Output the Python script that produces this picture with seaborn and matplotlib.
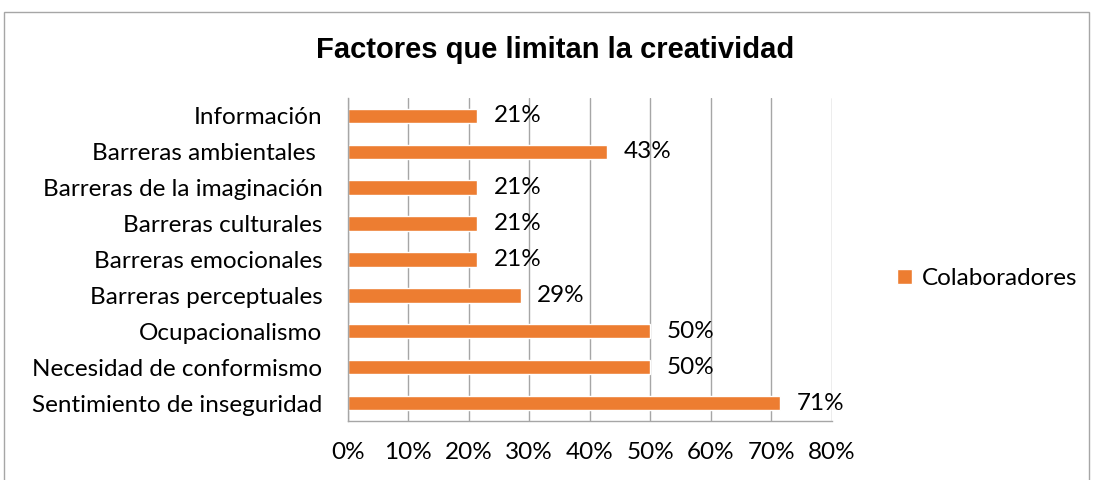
import numpy as np
import pandas as pd
import matplotlib
matplotlib.use('Agg')
import matplotlib.pyplot as plt
from matplotlib.ticker import FixedLocator, PercentFormatter
import seaborn as sns

# DATA (14 colaboradores -> fractions of 14)
factores = ['Información', 'Barreras ambientales ', 'Barreras de la imaginación',
            'Barreras culturales', 'Barreras emocionales', 'Barreras perceptuales',
            'Ocupacionalismo', 'Necesidad de conformismo', 'Sentimiento de inseguridad']
porcentaje = [21.4, 42.9, 21.4, 21.4, 21.4, 28.6, 50.0, 50.0, 71.4]
serie = 'Colaboradores'
x_ticks = [0, 10, 20, 30, 40, 50, 60, 70, 80]

df = pd.DataFrame({'factor': factores, 'pct': porcentaje, 'serie': serie})

sns.set_style('white')
plt.rcParams['font.family'] = ['Lato', 'DejaVu Sans']
plt.rcParams['text.color'] = 'black'

naranja = '#ED7D31'
gris = '#A6A6A6'
fs = 17.5

fig = plt.figure(figsize=(10.93, 4.8), dpi=100)
ax = fig.add_axes([0.318, 0.123, 0.443, 0.673])

sns.barplot(data=df, y='factor', x='pct', hue='serie', palette=[naranja],
            width=0.4, orient='h', ax=ax, saturation=1)

ax.set_xlim(0, 80)
ax.set_ylim(len(factores) - 0.5, -0.5)
ax.xaxis.set_major_locator(FixedLocator(x_ticks))
ax.xaxis.set_major_formatter(PercentFormatter(decimals=0))
ax.grid(axis='x', color=gris, linewidth=1)
ax.set_axisbelow(True)
ax.set_xlabel('')
ax.set_ylabel('')

for s in ['top', 'right']:
    ax.spines[s].set_visible(False)
for s in ['left', 'bottom']:
    ax.spines[s].set_color(gris)
    ax.spines[s].set_linewidth(1)

ax.tick_params(axis='y', length=0, labelsize=fs, pad=18, labelcolor='black')
ax.tick_params(axis='x', length=5, color=gris, width=1, labelsize=fs, pad=10, labelcolor='black')
ax.yaxis.set_minor_locator(FixedLocator(np.arange(-0.5, len(factores), 1)))
ax.tick_params(axis='y', which='minor', length=6, color=gris, width=1)

for i, v in enumerate(porcentaje):
    ax.annotate(f'{v:.0f}%', xy=(v, i), xytext=(12, 0), textcoords='offset points',
                va='center', ha='left', fontsize=fs, color='black')

leg = ax.legend(loc='center left', bbox_to_anchor=(1.09, 0.44), frameon=False,
                fontsize=fs, handlelength=0.6, handleheight=0.6, handletextpad=0.4)
for t in leg.get_texts():
    t.set_color('black')

fig.text(0.508, 0.895, 'Factores que limitan la creatividad', ha='center', va='center',
         fontsize=21, fontweight='bold', family='Liberation Sans', color='black')

border = plt.Rectangle((0.004, -0.01), 0.992, 0.985, transform=fig.transFigure,
                       fill=False, edgecolor=gris, linewidth=1)
fig.add_artist(border)

fig.savefig('out.png', dpi=100)
